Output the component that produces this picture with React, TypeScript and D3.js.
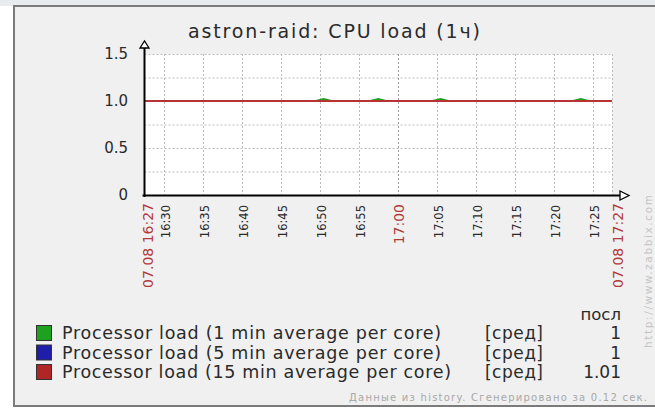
import React from 'react';
import * as d3 from 'd3';

const W = 655;
const H = 409;

const TITLE = 'astron-raid: CPU load (1ч)';
// minutes since midnight of the first sample (16:27:26)
const T0 = 16 * 60 + 27 + 26 / 60;
const sampleOffsets = [
  0, 1, 2, 3, 4, 5, 6, 7, 8, 9, 10, 11, 12, 13, 14, 15, 16, 17, 18, 19, 20,
  21, 22, 23, 24, 25, 26, 27, 28, 29, 30, 31, 32, 33, 34, 35, 36, 37, 38, 39, 40,
  41, 42, 43, 44, 45, 46, 47, 48, 49, 50, 51, 52, 53, 54, 55, 56, 57, 58, 59, 60,
];
const load1 = [
  1, 1, 1, 1, 1, 1, 1, 1, 1, 1, 1, 1, 1, 1, 1, 1, 1, 1, 1, 1, 1,
  1, 1, 1.02, 1, 1, 1, 1, 1, 1, 1.02, 1, 1, 1, 1, 1, 1, 1, 1.02, 1, 1,
  1, 1, 1, 1, 1, 1, 1, 1, 1, 1, 1, 1, 1, 1, 1, 1.02, 1, 1, 1, 1,
];
const load5 = [
  1, 1, 1, 1, 1, 1, 1, 1, 1, 1, 1, 1, 1, 1, 1, 1, 1, 1, 1, 1, 1,
  1, 1, 1, 1, 1, 1, 1, 1, 1, 1, 1, 1, 1, 1, 1, 1, 1, 1, 1, 1,
  1, 1, 1, 1, 1, 1, 1, 1, 1, 1, 1, 1, 1, 1, 1, 1, 1, 1, 1, 1,
];
const load15 = [
  1, 1, 1, 1, 1, 1, 1, 1, 1, 1, 1, 1, 1, 1, 1, 1, 1, 1, 1, 1, 1,
  1, 1, 1, 1, 1, 1, 1, 1, 1, 1, 1, 1, 1, 1, 1, 1, 1, 1, 1, 1,
  1, 1, 1, 1, 1, 1, 1, 1, 1, 1, 1, 1, 1, 1, 1, 1, 1, 1, 1, 1,
];

const yTicks = [0, 0.5, 1.0, 1.5];
const yTickLabels = ['0', '0.5', '1.0', '1.5'];
const yGrid = [0.25, 0.5, 0.75, 1.0, 1.25, 1.5];
const timeTickLabels = ['16:30', '16:35', '16:40', '16:45', '16:50', '16:55', '17:05', '17:10', '17:15', '17:20', '17:25'];
const mainTickLabel = '17:00';
const startLabel = '07.08 16:27';
const endLabel = '07.08 17:27';

const seriesNames = [
  'Processor load (1 min average per core)',
  'Processor load (5 min average per core)',
  'Processor load (15 min average per core)',
];
const seriesColors = ['#1ea11e', '#1e1eaa', '#b02626'];
const lineColors = ['#1ea11e', '#1e1eaa', '#b83434'];
const seriesFn = ['[сред]', '[сред]', '[сред]'];
const seriesLast = ['1', '1', '1.01'];
const lastHeader = 'посл';
const footer = 'Данные из history. Сгенерировано за 0.12 сек.';
const watermark = 'http://www.zabbix.com';

const FONT = "'DejaVu Sans', sans-serif";

function toMin(s: string) {
  const [h, m] = s.split(':').map(Number);
  return h * 60 + m;
}

export default function App() {
  const x = d3.scaleLinear().domain([T0, T0 + 60]).range([144.5, 612]);
  const y = d3.scaleLinear().domain([0, 1.5]).range([195, 54]);
  const line = d3
    .line<number>()
    .x((_, i) => x(T0 + sampleOffsets[i]))
    .y((d) => y(d))
    .curve(d3.curveLinear);
  const series = [load1, load5, load15];
  const plotL = x(T0);
  const plotR = x(T0 + 60);
  const allTicks = [...timeTickLabels, mainTickLabel];

  return (
    <svg
      width={W}
      height={H}
      style={{ position: 'absolute', left: 0, top: 0, display: 'block' }}
      fontFamily={FONT}
    >
      <rect x={0} y={0} width={W} height={H} fill="#ffffff" />
      <rect x={0} y={0} width={W} height={6} fill="#e9ecef" />
      <rect x={14} y={6} width={W - 14} height={400} fill="#f0f0f0" />
      <line x1={14} y1={6} x2={W} y2={6} stroke="#7b7b7b" strokeWidth={2} />
      <line x1={14} y1={5} x2={14} y2={407} stroke="#7b7b7b" strokeWidth={2} />
      <line x1={13} y1={406} x2={W} y2={406} stroke="#7b7b7b" strokeWidth={2} />

      <text x={334} y={38} textAnchor="middle" fontSize={19} fill="#2a2a2a" textLength={292} lengthAdjust="spacing">
        {TITLE}
      </text>

      {/* plot background */}
      <rect x={plotL} y={y(1.5)} width={plotR - plotL} height={y(0) - y(1.5)} fill="#ffffff" />

      {/* horizontal grid */}
      {yGrid.map((v) => (
        <line key={'hg' + v} x1={plotL} x2={plotR} y1={y(v) + 0.5} y2={y(v) + 0.5} stroke="#bcbcbc" strokeDasharray="2,2" />
      ))}
      {/* vertical grid */}
      {allTicks.map((t) => (
        <line
          key={'vg' + t}
          x1={Math.round(x(toMin(t))) + 0.5}
          x2={Math.round(x(toMin(t))) + 0.5}
          y1={y(1.5)}
          y2={y(0) + 3}
          stroke={t === mainTickLabel ? '#999999' : '#bcbcbc'}
          strokeDasharray="2,2"
        />
      ))}
      <line x1={plotR + 0.5} x2={plotR + 0.5} y1={y(1.5)} y2={y(0)} stroke="#bcbcbc" strokeDasharray="2,2" />

      {/* series */}
      {series.map((s, i) => (
        <path key={'s' + i} d={line(s) || ''} fill="none" stroke={lineColors[i]} strokeWidth={2} />
      ))}

      {/* axes */}
      <line x1={plotL} x2={plotL} y1={47} y2={y(0) + 2} stroke="#000" strokeWidth={2} />
      <path d={`M${plotL - 4.5},${48} L${plotL},${41} L${plotL + 4.5},${48} Z`} fill="#fff" stroke="#000" strokeWidth={1.3} />
      <line x1={plotL - 2} x2={620} y1={y(0) + 0.5} y2={y(0) + 0.5} stroke="#000" strokeWidth={2} />
      <path d={`M620,${y(0) - 4} L629,${y(0) + 0.5} L620,${y(0) + 5} Z`} fill="#fff" stroke="#000" strokeWidth={1.3} />

      {/* y labels */}
      {yTicks.map((v, i) => (
        <text key={'yl' + v} x={128} y={y(v)} dy="0.36em" textAnchor="end" fontSize={15} fill="#2a2a2a">
          {yTickLabels[i]}
        </text>
      ))}

      {/* x labels */}
      {timeTickLabels.map((t) => (
        <text
          key={'xl' + t}
          transform={`translate(${x(toMin(t)) + 1.5},205) rotate(-90)`}
          dy="0.36em"
          textAnchor="end"
          fontSize={11.5}
          fill="#2a2a2a"
        >
          {t}
        </text>
      ))}
      <text transform={`translate(${x(toMin(mainTickLabel)) + 1},204) rotate(-90)`} dy="0.36em" textAnchor="end" fontSize={14} fill="#b03a3a">
        {mainTickLabel}
      </text>
      <text transform={`translate(${plotL + 3.5},203) rotate(-90)`} dy="0.36em" textAnchor="end" fontSize={14} fill="#b03a3a">
        {startLabel}
      </text>
      <text transform={`translate(${plotR + 5.5},203) rotate(-90)`} dy="0.36em" textAnchor="end" fontSize={14} fill="#b03a3a">
        {endLabel}
      </text>

      {/* watermark */}
      <text transform="translate(648.5,195) rotate(-90)" dy="0.36em" textAnchor="end" fontSize={10.5} fill="#c4c4c4" textLength={153} lengthAdjust="spacing">
        {watermark}
      </text>

      {/* legend */}
      <text x={621} y={314} dy="0.36em" textAnchor="end" fontSize={16.5} fill="#2a2a2a">
        {lastHeader}
      </text>
      {seriesNames.map((n, i) => {
        const cy = 333 + i * 19.5;
        return (
          <g key={'lg' + i}>
            <rect x={36.5} y={cy - 7.5} width={15} height={15} fill={seriesColors[i]} stroke="#333" strokeWidth={1} />
            <text x={62} y={cy} dy="0.36em" fontSize={17.5} fill="#2a2a2a" textLength={i === 2 ? 389 : 379} lengthAdjust="spacing">
              {n}
            </text>
            <text x={485} y={cy} dy="0.36em" fontSize={17} fill="#2a2a2a" textLength={58} lengthAdjust="spacing">
              {seriesFn[i]}
            </text>
            <text x={621} y={cy} dy="0.36em" textAnchor="end" fontSize={17} fill="#2a2a2a">
              {seriesLast[i]}
            </text>
          </g>
        );
      })}

      <text x={647} y={397} dy="0.36em" textAnchor="end" fontSize={10} fill="#a8a8a8" textLength={298} lengthAdjust="spacing">
        {footer}
      </text>
    </svg>
  );
}
